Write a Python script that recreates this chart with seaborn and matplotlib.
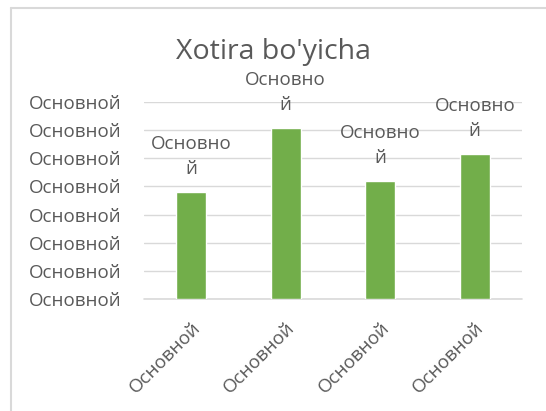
import numpy as np
import pandas as pd
import seaborn as sns
import matplotlib.pyplot as plt
from matplotlib.lines import Line2D


# Chart data
title = "Xotira bo'yicha"
x_labels = ["Основной", "Основной", "Основной", "Основной"]
values = [3.8, 6.08, 4.2, 5.15]
bar_labels = ["Основно\nй", "Основно\nй", "Основно\nй", "Основно\nй"]
y_ticks = [0, 1, 2, 3, 4, 5, 6, 7]
y_tick_labels = ["Основной"] * 8

text_color = "#595959"
bar_color = "#72AE4A"
grid_color = "#D9D9D9"


def main():
    sns.set_theme(style="white")
    plt.rcParams['font.family'] = ['Open Sans', 'DejaVu Sans']

    df = pd.DataFrame({"item": np.arange(len(values)), "value": values})

    fig = plt.figure(figsize=(5.46, 4.11), dpi=100)
    ax = fig.add_axes([144 / 546, 1 - 299 / 411, 378 / 546, 197 / 411])

    sns.barplot(data=df, x="item", y="value", color=bar_color, width=0.32,
                saturation=1, ax=ax, zorder=3)

    ax.set_ylim(0, 7)
    ax.set_yticks(y_ticks)
    ax.set_yticklabels(y_tick_labels)
    ax.set_xticks(df["item"])
    ax.set_xticklabels(x_labels, rotation=45, ha="right", va="top",
                       rotation_mode="anchor")
    ax.tick_params(axis="y", length=0, pad=16, labelsize=13.5, labelcolor=text_color)
    ax.tick_params(axis="x", length=0, pad=14, labelsize=13.5, labelcolor=text_color)
    ax.set_xlabel("")
    ax.set_ylabel("")

    ax.grid(axis="y", color=grid_color, linewidth=1, zorder=0)
    ax.axhline(0, color=grid_color, linewidth=1.2, zorder=1, clip_on=False)
    ax.set_axisbelow(True)
    for s in ax.spines.values():
        s.set_visible(False)

    ax.bar_label(ax.containers[0], labels=bar_labels, padding=10, fontsize=13.5,
                 color=text_color, linespacing=1.5)

    fig.text(0.5, 1 - 52 / 411, title, ha="center", va="center",
             fontsize=20.5, color=text_color)

    # outer chart frame (top and left edges only visible)
    fig.add_artist(Line2D([11 / 546, 1], [1 - 8 / 411, 1 - 8 / 411],
                          transform=fig.transFigure, color=grid_color, lw=1.5))
    fig.add_artist(Line2D([11 / 546, 11 / 546], [0, 1 - 8 / 411],
                          transform=fig.transFigure, color=grid_color, lw=1.5))

    fig.savefig("out.png", dpi=100)


if __name__ == "__main__":
    main()
